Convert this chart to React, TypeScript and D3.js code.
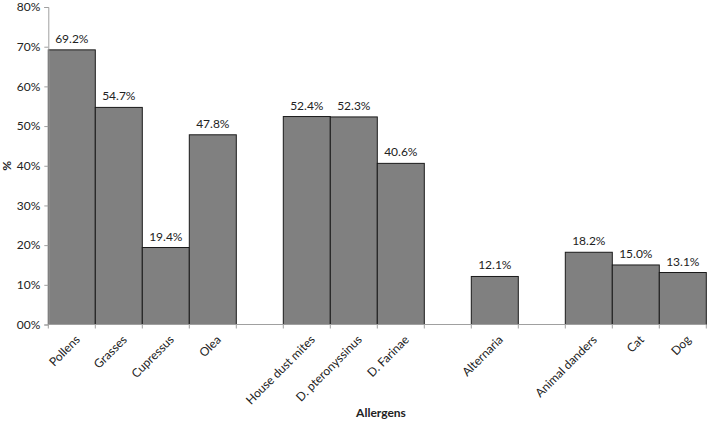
import * as d3 from "d3"
import { useEffect, useRef } from "react"

// slots: empty names are spacer slots between groups
const categories = [
  "Pollens", "Grasses", "Cupressus", "Olea", "",
  "House dust mites", "D. pteronyssinus", "D. Farinae", "",
  "Alternaria", "",
  "Animal danders", "Cat", "Dog"
]
const values: (number | null)[] = [
  69.2, 54.7, 19.4, 47.8, null,
  52.4, 52.3, 40.6, null,
  12.1, null,
  18.2, 15.0, 13.1
]
const yTicks = [0, 10, 20, 30, 40, 50, 60, 70, 80]

const W = 709
const H = 423
const FONT = "Lato, 'Open Sans', sans-serif"
const FS = "12px"

const App = () => {
  const svgRef = useRef<SVGSVGElement | null>(null)

  useEffect(() => {
    if (!svgRef.current) return
    const svg = d3.select(svgRef.current)
    svg.selectAll("*").remove()

    const margin = { left: 48.3, right: 2.7, top: 7, bottom: 98.5 }
    const slots = categories.map((_c, i) => String(i))

    const x = d3
      .scaleBand<string>()
      .domain(slots)
      .range([margin.left, W - margin.right])
      .padding(0)

    const y = d3
      .scaleLinear()
      .domain([0, 80])
      .range([H - margin.bottom, margin.top])

    const g = svg.append("g")

    // bars
    const data = categories.map((c, i) => ({ key: String(i), name: c, v: values[i] }))
    const barData = data.filter(d => d.v !== null)

    g.selectAll(".bar")
      .data(barData)
      .enter()
      .append("rect")
      .attr("x", d => x(d.key)!)
      .attr("y", d => y(d.v!))
      .attr("width", x.bandwidth())
      .attr("height", d => y(0) - y(d.v!))
      .attr("fill", "#808080")
      .attr("stroke", "#1a1a1a")
      .attr("stroke-width", 1)

    // value labels
    g.selectAll(".val")
      .data(barData)
      .enter()
      .append("text")
      .attr("x", d => x(d.key)! + x.bandwidth() / 2)
      .attr("y", d => y(d.v!) - 7)
      .attr("text-anchor", "middle")
      .style("font-family", FONT)
      .style("font-size", FS)
      .style("fill", "#222")
      .text(d => d.v!.toFixed(1) + "%")

    // y axis
    const yAxis = g
      .append("g")
      .attr("transform", `translate(${margin.left},0)`)
      .call(
        d3
          .axisLeft(y)
          .tickValues(yTicks)
          .tickSize(4)
          .tickPadding(4)
          .tickFormat(d => (d === 0 ? "00%" : `${d}%`))
      )
    yAxis.select(".domain").attr("stroke", "#a0a0a0")
    yAxis.selectAll(".tick line").attr("stroke", "#a0a0a0")
    yAxis
      .selectAll(".tick text")
      .style("font-family", FONT)
      .style("font-size", FS)
      .style("fill", "#222")

    // x axis: line plus ticks at slot boundaries
    const x0 = margin.left
    const x1 = W - margin.right
    const baseY = y(0)
    g.append("line")
      .attr("x1", x0)
      .attr("x2", x1)
      .attr("y1", baseY)
      .attr("y2", baseY)
      .attr("stroke", "#a0a0a0")
    const bounds = slots.map(s => x(s)!).concat([x1])
    g.selectAll(".xtick")
      .data(bounds)
      .enter()
      .append("line")
      .attr("x1", d => d)
      .attr("x2", d => d)
      .attr("y1", baseY)
      .attr("y2", baseY + 4)
      .attr("stroke", "#a0a0a0")

    // category labels rotated -45
    g.selectAll(".xlab")
      .data(data.filter(d => d.name !== ""))
      .enter()
      .append("text")
      .attr(
        "transform",
        d => `translate(${x(d.key)! + x.bandwidth() / 2 + 3},${baseY + 10}) rotate(-45)`
      )
      .attr("text-anchor", "end")
      .attr("dy", "0.7em")
      .style("font-family", FONT)
      .style("font-size", FS)
      .style("fill", "#222")
      .text(d => d.name)

    // axis titles
    svg
      .append("text")
      .attr("x", 381)
      .attr("y", 417)
      .attr("text-anchor", "middle")
      .style("font-family", FONT)
      .style("font-size", FS)
      .style("font-weight", "bold")
      .style("fill", "#222")
      .text("Allergens")

    svg
      .append("text")
      .attr("transform", `translate(11,${(margin.top + baseY) / 2}) rotate(-90)`)
      .attr("text-anchor", "middle")
      .style("font-family", FONT)
      .style("font-size", FS)
      .style("font-weight", "bold")
      .style("fill", "#222")
      .text("%")
  }, [])

  return (
    <svg
      ref={svgRef}
      width={W}
      height={H}
      style={{ position: "absolute", left: 0, top: 0, background: "#fff" }}
    />
  )
}

export default App
